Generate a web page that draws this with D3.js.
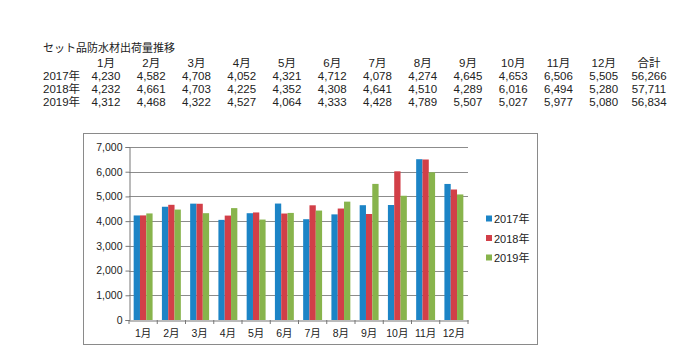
<!DOCTYPE html>
<html><head><meta charset="utf-8">
<script src="https://cdn.jsdelivr.net/npm/d3@7"></script>
<style>body{margin:0;background:#fff;}svg{display:block;}</style>
</head><body>
<svg id="c" width="700" height="354"></svg>
<script>
const title = "セット品防水材出荷量推移";
const months = ["1月","2月","3月","4月","5月","6月","7月","8月","9月","10月","11月","12月"];
const years = ["2017年","2018年","2019年"];
const v2017 = [4230,4582,4708,4052,4321,4712,4078,4274,4645,4653,6506,5505];
const v2018 = [4232,4661,4703,4225,4352,4308,4641,4510,4289,6016,6494,5280];
const v2019 = [4312,4468,4322,4527,4064,4333,4428,4789,5507,5027,5977,5080];
const totals = ["56,266","57,711","56,834"];
const totalLabel = "合計";
const yTicks = [0,1000,2000,3000,4000,5000,6000,7000];
const colors = ["#1c84c6","#d23f48","#88b44c"];

const series = [v2017, v2018, v2019];
const svg = d3.select("#c");
const font = "'Liberation Sans', 'Noto Sans CJK JP', sans-serif";
const fmt = d3.format(",");

// ---- table ----
svg.append("text").attr("x",43).attr("y",52).attr("font-family",font)
  .attr("font-size",11).attr("fill","#222").text(title);
const colX = d3.scaleLinear().domain([0,12]).range([106,649]);
const rowY = d3.scaleLinear().domain([0,3]).range([67,106]);
const tbl = svg.append("g").attr("font-family",font).attr("font-size",11.5).attr("fill","#222");
months.concat([totalLabel]).forEach((m,i)=>{
  tbl.append("text").attr("x",colX(i)).attr("y",rowY(0)).attr("text-anchor","middle").text(m);
});
years.forEach((y,r)=>{
  tbl.append("text").attr("x",43).attr("y",rowY(r+1)).text(y);
  series[r].forEach((v,i)=>{
    tbl.append("text").attr("x",colX(i)).attr("y",rowY(r+1)).attr("text-anchor","middle").text(fmt(v));
  });
  tbl.append("text").attr("x",colX(12)).attr("y",rowY(r+1)).attr("text-anchor","middle").text(totals[r]);
});

// ---- chart box ----
svg.append("rect").attr("x",83.5).attr("y",133.5).attr("width",454).attr("height",211)
  .attr("fill","none").attr("stroke","#8a8a8a").attr("stroke-width",1);

const x0 = d3.scaleBand().domain(months).range([129,468]).paddingInner(0.33).paddingOuter(0.165);
const x1 = d3.scaleBand().domain(years).range([0,x0.bandwidth()]);
const y = d3.scaleLinear().domain([0,7000]).range([320,147]);

// gridlines
svg.append("g").selectAll("line").data(yTicks.filter(d=>d>0)).join("line")
  .attr("x1",129).attr("x2",468).attr("y1",d=>Math.round(y(d))+0.5).attr("y2",d=>Math.round(y(d))+0.5)
  .attr("stroke","#8c8c8c").attr("stroke-width",1);

// bars
const g = svg.append("g");
months.forEach((m,i)=>{
  years.forEach((yr,k)=>{
    g.append("rect").attr("x",x0(m)+x1(yr)).attr("y",y(series[k][i]))
      .attr("width",x1.bandwidth()).attr("height",y(0)-y(series[k][i]))
      .attr("fill",colors[k]);
  });
});

// y axis
const ya = svg.append("g").attr("transform","translate(129.5,0)")
  .call(d3.axisLeft(y).tickValues(yTicks).tickFormat(fmt).tickSize(4).tickPadding(3));
ya.select(".domain").attr("stroke","#777");
ya.selectAll(".tick line").attr("stroke","#777");
ya.selectAll("text").attr("font-family",font).attr("font-size",10.5).attr("fill","#222");

// x axis
const xa = svg.append("g").attr("transform","translate(0,320.5)")
  .call(d3.axisBottom(x0).tickSize(0).tickPadding(9));
xa.select(".domain").attr("stroke","#777");
xa.selectAll("text").attr("font-family",font).attr("font-size",10.5).attr("fill","#222");
// boundary ticks between categories
svg.append("g").selectAll("line").data(d3.range(13)).join("line")
  .attr("x1",d=>129+d*(468-129)/12).attr("x2",d=>129+d*(468-129)/12)
  .attr("y1",320).attr("y2",324).attr("stroke","#777");

// legend
const lg = svg.append("g").attr("font-family",font).attr("font-size",11).attr("fill","#222");
years.forEach((yr,k)=>{
  const yy = 219 + k*19.5;
  lg.append("rect").attr("x",486).attr("y",yy-3.5).attr("width",6).attr("height",6).attr("fill",colors[k]);
  lg.append("text").attr("x",494).attr("y",yy+4).text(yr);
});
</script>
</body></html>
